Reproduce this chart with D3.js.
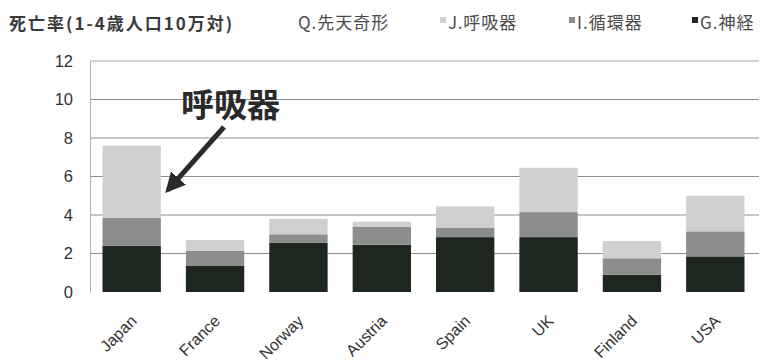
<!DOCTYPE html>
<html>
<head>
<meta charset="utf-8">
<script src="https://cdn.jsdelivr.net/npm/d3@7"></script>
<style>
  html, body { margin: 0; padding: 0; background: #fff; }
  svg { display: block; }
  text { font-family: "Liberation Sans", Arial, sans-serif; }
  .jp { font-family: "Noto Sans CJK JP", "Noto Sans", sans-serif; }
</style>
</head>
<body>
<svg id="chart" width="767" height="364"></svg>
<script>
// Child mortality (ages 1-4, per 100,000) by cause of death
const countries = ["Japan", "France", "Norway", "Austria", "Spain", "UK", "Finland", "USA"];
const neuro       = [2.4, 1.35, 2.55, 2.45, 2.85, 2.85, 0.9, 1.85];   // G.神経
const circulatory = [1.45, 0.8, 0.45, 0.95, 0.5, 1.3, 0.85, 1.3];     // I.循環器
const respiratory = [3.75, 0.55, 0.8, 0.25, 1.1, 2.3, 0.9, 1.85];     // J.呼吸器
const congenital  = [0, 0, 0, 0, 0, 0, 0, 0];                         // Q.先天奇形
const yTicks = [0, 2, 4, 6, 8, 10, 12];

const seriesKeys   = ["G", "I", "J", "Q"];
const seriesLabels = { G: "G.神経", I: "I.循環器", J: "J.呼吸器", Q: "Q.先天奇形" };
const seriesColors = { G: "#1d261f", I: "#8c8e8c", J: "#cfd0cf", Q: "#ffffff" };

const rows = countries.map((c, i) => ({
  country: c, G: neuro[i], I: circulatory[i], J: respiratory[i], Q: congenital[i]
}));

const svg = d3.select("#chart");
const margin = { left: 90, right: 10, top: 61, bottom: 72 };
const W = 767, H = 364;

const x = d3.scaleBand().domain(countries)
  .range([margin.left, W - margin.right]).paddingInner(0.3).paddingOuter(0.15);
const y = d3.scaleLinear().domain([0, 12]).range([H - margin.bottom, margin.top]);

// gridlines
svg.append("g").selectAll("line").data(yTicks.filter(t => t > 0)).join("line")
  .attr("x1", margin.left).attr("x2", W - margin.right + 2)
  .attr("y1", d => y(d)).attr("y2", d => y(d))
  .attr("stroke", d => d === 12 ? "#a8a8a8" : "#8e8e8e").attr("stroke-width", 1);

// y axis
const yAxis = svg.append("g").attr("transform", `translate(${margin.left},0)`)
  .call(d3.axisLeft(y).tickValues(yTicks).tickSize(0).tickPadding(17));
yAxis.select(".domain").attr("stroke", "#b0b0b0");
yAxis.selectAll("text").attr("font-size", 16.5).attr("fill", "#333");

// stacked bars
const stacked = d3.stack().keys(seriesKeys)(rows);
svg.append("g").selectAll("g").data(stacked).join("g")
  .attr("fill", d => seriesColors[d.key])
  .selectAll("rect").data(d => d).join("rect")
  .attr("x", d => x(d.data.country))
  .attr("width", x.bandwidth())
  .attr("y", d => y(d[1]))
  .attr("height", d => y(d[0]) - y(d[1]));

// category labels
svg.append("g").selectAll("text").data(countries).join("text")
  .attr("transform", d => `translate(${x(d) + x.bandwidth() / 2 + 6},${H - margin.bottom + 30}) rotate(-45)`)
  .attr("text-anchor", "end")
  .attr("font-size", 16)
  .attr("fill", "#333")
  .text(d => d);

// title
svg.append("text").attr("class", "jp")
  .attr("x", 9).attr("y", 30)
  .attr("font-size", 17).attr("font-weight", "bold").attr("fill", "#3a3a3a")
  .attr("letter-spacing", 2)
  .text("死亡率(1-4歳人口10万対)");

// legend
const legendItems = [
  { key: "Q", x: 298 },
  { key: "J", x: 440 },
  { key: "I", x: 569 },
  { key: "G", x: 692 }
];
const lg = svg.append("g").selectAll("g").data(legendItems).join("g")
  .attr("transform", d => `translate(${d.x},24)`);
lg.append("rect")
  .attr("x", 0).attr("y", -7).attr("width", 6).attr("height", 6)
  .attr("fill", d => seriesColors[d.key]);
lg.append("text").attr("class", "jp")
  .attr("x", d => d.key === "Q" ? 0 : 8).attr("y", 5)
  .attr("font-size", 17).attr("fill", "#4a4a4a").attr("letter-spacing", 1)
  .text(d => seriesLabels[d.key]);

// annotation for the Japan respiratory segment
const jpIdx = 0;
const tipX = x(countries[jpIdx]) + x.bandwidth() + 7;
const tipY = y(neuro[jpIdx] + circulatory[jpIdx] + respiratory[jpIdx] / 2.6);
svg.append("text").attr("class", "jp")
  .attr("x", 181).attr("y", 117)
  .attr("font-size", 33).attr("font-weight", "bold").attr("fill", "#2a2a2a")
  .text("呼吸器");

svg.append("defs").append("marker")
  .attr("id", "ah").attr("viewBox", "0 0 10 10")
  .attr("refX", 8).attr("refY", 5)
  .attr("markerWidth", 4).attr("markerHeight", 4)
  .attr("orient", "auto")
  .append("path").attr("d", "M0,0 L10,5 L0,10 Z").attr("fill", "#2b2b2b");
svg.append("line")
  .attr("x1", 224).attr("y1", 127)
  .attr("x2", tipX).attr("y2", tipY)
  .attr("stroke", "#2b2b2b").attr("stroke-width", 5)
  .attr("marker-end", "url(#ah)");
</script>
</body>
</html>
